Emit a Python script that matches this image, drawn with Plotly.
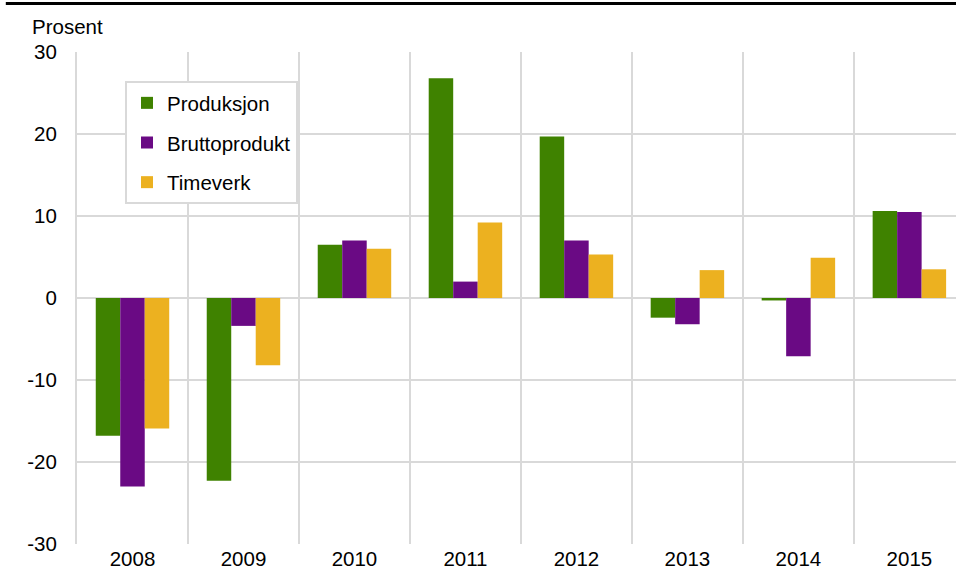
import plotly.graph_objects as go

years = ["2008", "2009", "2010", "2011", "2012", "2013", "2014", "2015"]
produksjon = [-16.8, -22.3, 6.5, 26.8, 19.7, -2.4, -0.3, 10.6]
bruttoprodukt = [-23.0, -3.4, 7.0, 2.0, 7.0, -3.2, -7.1, 10.5]
timeverk = [-15.9, -8.2, 6.0, 9.2, 5.3, 3.4, 4.9, 3.5]
y_ticks = [-30, -20, -10, 0, 10, 20, 30]
y_ticktext = ["-30", "-20", "-10", "0", "10", "20", "30"]

series = [
    ("Produksjon", produksjon, "#3f8200"),
    ("Bruttoprodukt", bruttoprodukt, "#6a0a84"),
    ("Timeverk", timeverk, "#ecb120"),
]

FONT = "Liberation Sans, Arial, sans-serif"
FS = 20.5

fig = go.Figure()
for i, (name, vals, col) in enumerate(series):
    fig.add_trace(go.Bar(
        x=years, y=vals, name=name, legendgroup=f"g{i}",
        marker=dict(color=col, line=dict(width=0)),
    ))

fig.update_layout(
    width=956, height=580,
    margin=dict(l=77, r=0, t=52, b=36),
    paper_bgcolor="white", plot_bgcolor="white",
    font=dict(family=FONT, size=FS, color="#000000"),
    barmode="group", bargap=0.338, bargroupgap=0,
    showlegend=True,
    legend=dict(
        x=0.0546, y=0.941, xanchor="left", yanchor="top",
        bordercolor="#d9d9d9", borderwidth=2, bgcolor="white",
        traceorder="grouped", tracegroupgap=10,
        entrywidth=172, entrywidthmode="pixels",
        font=dict(family=FONT, size=FS, color="#000000"),
    ),
    xaxis=dict(
        type="category", range=[-0.5, 7.42],
        tickson="boundaries", showgrid=True, gridcolor="#d9d9d9", gridwidth=2,
        ticks="", showline=False, zeroline=False,
        tickfont=dict(family=FONT, size=FS),
    ),
    yaxis=dict(
        range=[-30, 30], tickvals=y_ticks, ticktext=y_ticktext,
        showgrid=True, gridcolor="#d9d9d9", gridwidth=2,
        zeroline=True, zerolinecolor="#d9d9d9", zerolinewidth=2,
        showline=True, linecolor="#d9d9d9", linewidth=2,
        ticks="", ticklabelstandoff=14,
        tickfont=dict(family=FONT, size=FS),
    ),
    shapes=[dict(
        type="line", xref="paper", yref="paper",
        x0=-0.081, x1=1.0, y0=1.0988, y1=1.0988,
        line=dict(color="black", width=3),
    )],
    annotations=[dict(
        text="Prosent", xref="paper", yref="paper",
        x=-0.0535, y=1.0244, xanchor="left", yanchor="bottom",
        showarrow=False, font=dict(family=FONT, size=FS, color="#000000"),
    )],
)

fig.write_html("out.html")
